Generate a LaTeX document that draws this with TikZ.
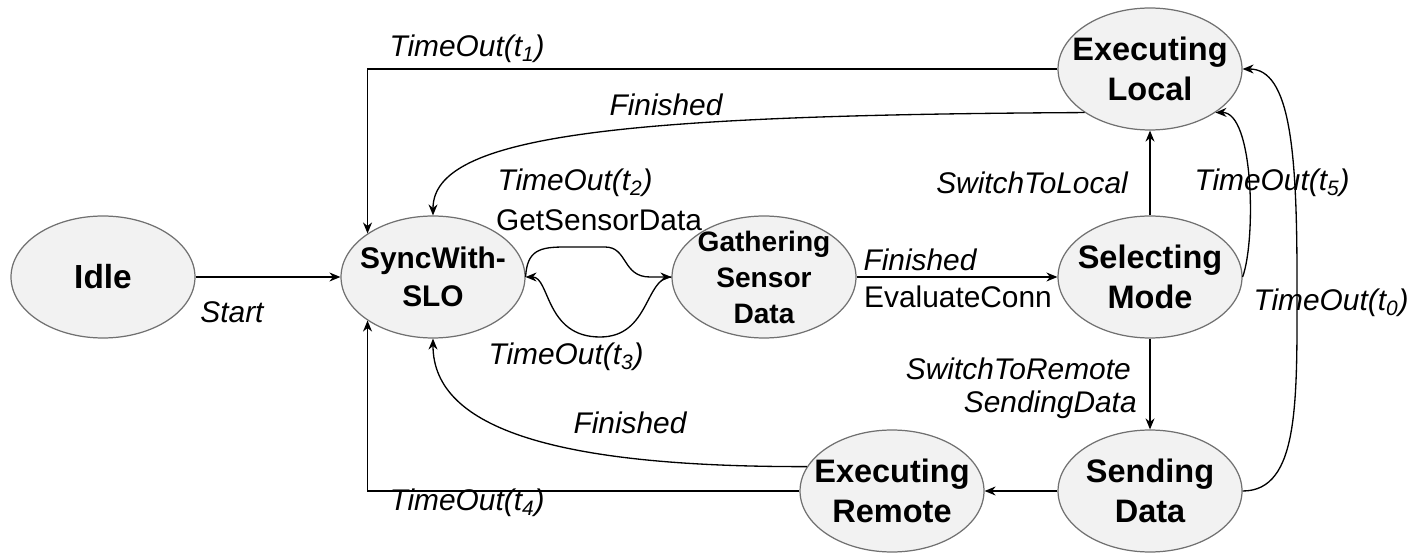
\documentclass[tikz,border=0pt]{standalone}
\usepackage{fontspec}
\setmainfont{Liberation Sans}
\usepackage{tikz}
\usetikzlibrary{arrows.meta, shapes.geometric}

\definecolor{stfill}{HTML}{F2F2F2}
\definecolor{stline}{HTML}{707070}

\tikzset{
  stnode/.style={ellipse, draw=stline, fill=stfill, line width=0.7pt,
    minimum width=3.68cm, minimum height=2.44cm, inner xsep=-1cm, inner ysep=-0.5cm,
    align=center, font=\bfseries\fontsize{18.5}{22.8}\selectfont},
  lbl/.style={inner sep=0pt, font=\itshape\fontsize{17}{20}\selectfont},
  txt/.style={inner sep=0pt, font=\fontsize{17}{20}\selectfont},
  arr/.style={-{Stealth[length=2.2mm,width=1.8mm]}, line width=0.75pt}
}

\begin{document}
\begin{tikzpicture}[x=0.02cm, y=-0.02cm]
    \useasboundingbox (0,0) rectangle (1412,553);
    % states
    \node[stnode, font=\bfseries\fontsize{19}{22.8}\selectfont] (idle) at (103,277) {Idle};
    \node[stnode, font=\bfseries\fontsize{17}{21.6}\selectfont] (sync) at (433,277) {SyncWith-\\SLO};
    \node[stnode, font=\bfseries\fontsize{16}{20.5}\selectfont] (gath) at (764,277) {Gathering\\Sensor\\Data};
    \node[stnode] (sel) at (1150,277) {Selecting\\Mode};
    \node[stnode] (exloc) at (1150,69) {Executing\\Local};
    \node[stnode] (send) at (1150,491) {Sending\\Data};
    \node[stnode] (exrem) at (892,491) {Executing\\Remote};
    % labels
    \node[lbl] (l-start) at (232,312) {Start};
    \node[lbl] (l-t1) at (467,49) {TimeOut(t\textsubscript{1})};
    \node[lbl] (l-fin1) at (666,105) {Finished};
    \node[lbl] (l-t2) at (575,183) {TimeOut(t\textsubscript{2})};
    \node[txt] (l-get) at (599,220) {GetSensorData};
    \node[lbl] (l-t3) at (566,357) {TimeOut(t\textsubscript{3})};
    \node[lbl] (l-fin2) at (630,423) {Finished};
    \node[lbl] (l-t4) at (467,503) {TimeOut(t\textsubscript{4})};
    \node[lbl] (l-fin3) at (920,260) {Finished};
    \node[txt] (l-eval) at (958,297) {EvaluateConn};
    \node[lbl] (l-loc) at (1032,183) {SwitchToLocal};
    \node[lbl, anchor=east] (l-rem) at (1131,369) {SwitchToRemote};
    \node[lbl, anchor=east] (l-sdat) at (1137,405) {SendingData};
    \node[lbl] (l-t5) at (1272,183) {TimeOut(t\textsubscript{5})};
    \node[lbl] (l-t0) at (1331,303) {TimeOut(t\textsubscript{0})};
    % straight transitions
    \draw[arr] (idle.east) -- (sync.west);
    \draw[arr] (gath.east) -- (sel.west);
    \draw[arr] (sel.north) -- (exloc.south);
    \draw[arr] (sel.south) -- (send.north);
    \draw[arr] (send.west) -- (exrem.east);
    \draw[arr] (exloc.west) -| (sync.north west);
    \draw[arr] (exrem.west) -| (sync.south west);
    % curved transitions
    \draw[arr] (exloc.south west) .. controls (620,115) and (433,135) .. (sync.north);
    \draw[arr] (exrem.164) .. controls (560,467) and (433,430) .. (sync.south);
    \draw[arr] (sync.east) .. controls (527,250) and (540,247) .. (565,247) -- (605,247)
        .. controls (628,247) and (622,277) .. (650,277) -- (gath.west);
    \draw[arr] (gath.west) .. controls (645,277) and (650,337) .. (600,337)
        .. controls (545,337) and (550,277) .. (sync.east);
    \draw[arr] (sel.east) .. controls (1256,240) and (1254,112) .. (exloc.south east);
    \draw[arr] (send.east) .. controls (1300,491) and (1297,400) .. (1297,280)
        .. controls (1297,150) and (1290,69) .. (exloc.east);
\end{tikzpicture}
\end{document}
